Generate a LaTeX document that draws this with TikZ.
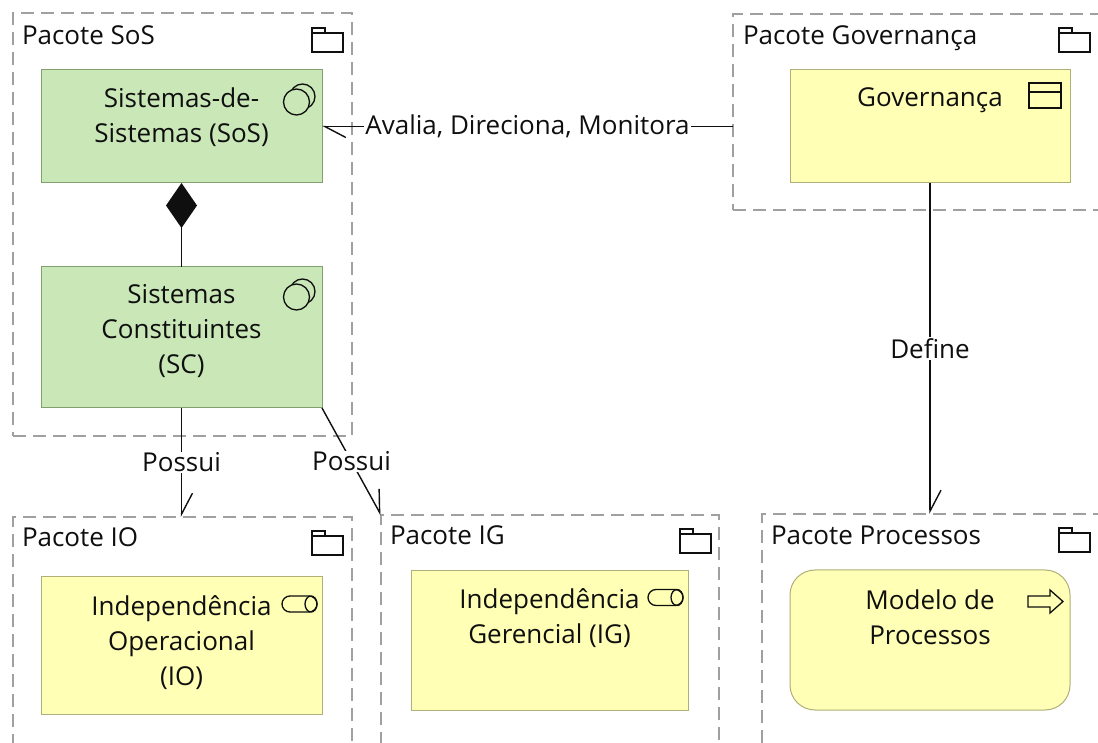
\documentclass[tikz,border=0pt]{standalone}
\usepackage{amssymb,amsmath}
\usepackage{xcolor}
\usepackage{fontspec}
\setmainfont{Open Sans}
\usetikzlibrary{arrows.meta}

\begin{document}
\begin{tikzpicture}[x=1pt,y=1pt,
  pkgframe/.style={draw=frameColor,line width=1.1pt,dash pattern=on 13pt off 7pt,inner sep=0pt,outer sep=0pt},
  greenbox/.style={draw=greenLine,fill=greenFill,line width=1pt,inner sep=0pt,outer sep=0pt},
  yellowbox/.style={draw=yellowLine,fill=yellowFill,line width=1pt,inner sep=0pt,outer sep=0pt},
  pkgtext/.style={text=drawColor,anchor=base west,inner sep=0pt,outer sep=0pt,font=\fontsize{26}{30}\selectfont},
  boxtext/.style={text=drawColor,anchor=north,align=center,inner sep=0pt,outer sep=0pt,font=\fontsize{26}{35}\selectfont},
  reltext/.style={text=drawColor,fill=white,inner sep=1pt,outer sep=0pt,font=\fontsize{26}{30}\selectfont},
  rel/.style={draw=drawColor,line width=1.4pt,-{Straight Barb[harpoon,length=21pt,width=22pt,line width=1.4pt]}},
  comp/.style={draw=drawColor,line width=1.4pt,{Diamond[length=45pt,width=31pt]}-},
  folder/.pic={\path[draw=drawColor,line width=1.3pt] (0,-5) rectangle (31,-24) (0,-5) -- (0,0) -- (13,0) -- (13,-5);},
  syssoft/.pic={\path[draw=drawColor,fill=greenFill,line width=1.3pt] (6,5.5) circle (12.5);
    \path[draw=drawColor,fill=greenFill,line width=1.3pt] (0,0) circle (13);},
  capsule/.pic={\path[draw=drawColor,line width=1.3pt,rounded corners=8pt] (0,-8) rectangle (35,8);
    \path[draw=drawColor,line width=1.3pt] (29,0) ellipse (6 and 8);},
  objicon/.pic={\path[draw=drawColor,line width=1.3pt] (0,0) rectangle (32,-25) (0,-9) -- (32,-9);},
  procicon/.pic={\path[draw=drawColor,line width=1.3pt,line join=miter] (0,-5.5) -- (22,-5.5) -- (22,-11.5) -- (35,0) --
    (22,11.5) -- (22,5.5) -- (0,5.5) -- cycle;}]
\definecolor{fillColor}{RGB}{255,255,255}
\definecolor{drawColor}{RGB}{15,15,15}
\definecolor{frameColor}{RGB}{160,160,160}
\definecolor{greenFill}{RGB}{201,231,183}
\definecolor{greenLine}{RGB}{130,160,110}
\definecolor{yellowFill}{RGB}{255,255,181}
\definecolor{yellowLine}{RGB}{175,175,120}
\path[use as bounding box,fill=fillColor] (0,0) rectangle (1098,742);

\begin{scope}
\node[pkgframe,minimum width=339,minimum height=423] (pSoS) at (182.5,517.5) {};

\node[pkgframe,minimum width=377,minimum height=196] (pGov) at (921.5,630.0) {};

\node[pkgframe,minimum width=339,minimum height=245] (pIO) at (182.5,102.5) {};

\node[pkgframe,minimum width=338,minimum height=247] (pIG) at (550.0,103.5) {};

\node[pkgframe,minimum width=348,minimum height=248] (pProc) at (936.0,104.0) {};

\node[pkgtext] (pSoSlabel) at ( 22,697) {Pacote SoS};

\node[pkgtext] (pGovlabel) at (743,697) {Pacote Governança};

\node[pkgtext] (pIOlabel) at ( 22,195) {Pacote IO};

\node[pkgtext] (pIGlabel) at (390,197) {Pacote IG};

\node[pkgtext] (pProclabel) at (771,197) {Pacote Processos};

\pic at ( 312,714) {folder};
\pic at (1059,714) {folder};
\pic at ( 312,211) {folder};
\pic at ( 680,213) {folder};
\pic at (1059,214) {folder};
\end{scope}

\begin{scope}
\node[greenbox,minimum width=281,minimum height=113] (sos) at (181.5,615.5) {};

\node[greenbox,minimum width=281,minimum height=141] (sc) at (181.5,404.5) {};

\node[yellowbox,minimum width=280,minimum height=113] (gov) at (930.0,615.5) {};

\node[yellowbox,minimum width=281,minimum height=137] (io) at (181.5, 96.5) {};

\node[yellowbox,minimum width=277,minimum height=139] (ig) at (549.5,101.5) {};

\node[yellowbox,minimum width=280,minimum height=140,rounded corners=25pt] (proc) at (930.0,102.0) {};

\node[boxtext] (sosText) at (181.5,654.4) {Sistemas-de-\\Sistemas (SoS)};

\node[boxtext] (scText) at (181.5,457.4) {Sistemas\\Constituintes\\(SC)};

\node[boxtext] (govText) at (930.0,654.4) {Governança};

\node[boxtext] (ioText) at (181.5,146.4) {Independência\\Operacional\\(IO)};

\node[boxtext] (igText) at (549.5,153.4) {Independência\\Gerencial (IG)};

\node[boxtext] (procText) at (930.0,152.4) {Modelo de\\Processos};

\pic at ( 296.5,640.0) {syssoft};
\pic at ( 296.5,445.0) {syssoft};
\pic at (1029.0,659.0) {objicon};
\pic at ( 282.0,138.0) {capsule};
\pic at ( 648.0,144.5) {capsule};
\pic at (1028.0,140.5) {procicon};
\end{scope}

\begin{scope}
\path[comp] (sos.south) -- (sc.north);

\path[rel] (sos.east -| pGov.west) -- node[reltext] (avaliaLabel) {Avalia, Direciona, Monitora} (sos.east);

\path[rel] (sc.south) -- node[reltext] (possuiIOLabel) {Possui} (sc.south |- pIO.north);

\path[rel] (sc.south east) -- node[reltext] (possuiIGLabel) {Possui} (pIG.north west);

\path[rel] (gov.south) -- node[reltext] (defineLabel) {Define} (gov.south |- pProc.north);
\end{scope}
\end{tikzpicture}
\end{document}
